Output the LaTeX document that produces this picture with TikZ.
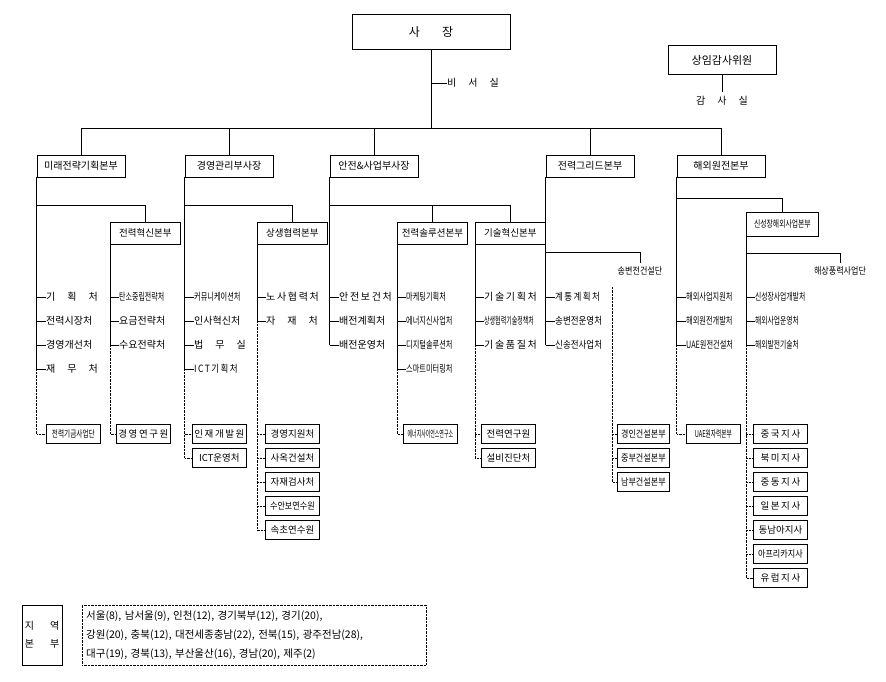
\documentclass[tikz,border=0pt]{standalone}
\usepackage{fontspec}
\setmainfont{Noto Sans CJK KR}
\usetikzlibrary{positioning}
\newcommand{\narrow}[2][.75]{\scalebox{#1}[1]{#2}}
\tikzset{
  head/.style={draw,thick,minimum width=88pt,minimum height=22pt,inner sep=0pt,font=\fontsize{10}{10}\selectfont},
  sub/.style={draw,thick,minimum width=70pt,minimum height=22pt,inner sep=0pt,anchor=west,font=\fontsize{9.5}{10}\selectfont},
  item/.style={anchor=west,inner sep=0pt,font=\fontsize{10}{10}\selectfont},
  unit/.style={draw,thick,minimum width=54pt,minimum height=19pt,inner sep=0pt,anchor=west,font=\fontsize{9.5}{10}\selectfont},
  link/.style={semithick},
  dot/.style={densely dotted}
}
\begin{document}
\begin{tikzpicture}[x=1pt,y=-1pt]
\useasboundingbox (0,0) rectangle (886,682);
%top
\node[head,minimum width=158pt,minimum height=35pt,font=\fontsize{12}{12}\selectfont] (ceo) at (431,32) {사\hspace{22pt}장};
\node[item] (sec) at (447,83) {비\hspace{12pt}서\hspace{12pt}실};
\node[head,minimum width=108pt,minimum height=29pt,font=\fontsize{11}{11}\selectfont] (aud) at (722,60) {상임감사위원};
\node[font=\fontsize{10}{10}\selectfont] (audo) at (722,101) {감\hspace{12pt}사\hspace{12pt}실};
\coordinate (bus) at (431,128);
\draw[link] (ceo.south) -- (bus);
\draw[link] (sec.west-|ceo.south) -- (sec.west);
\draw[link] (aud.south) -- ++(0,17);

%headquarters
\node[head] (mA) at (81,166) {미래전략기획본부};
\node[head] (mB) at (229,166) {경영관리부사장};
\node[head] (mC) at (374,166) {안전\&사업부사장};
\node[head] (mD) at (590,166) {전력그리드본부};
\node[head] (mE) at (721,166) {해외원전본부};
\draw[link] (mA.north|-bus) -- (mE.north|-bus);
\foreach \m in {mA,mB,mC,mD,mE} {\draw[link] (\m.north|-bus) -- (\m.north);}

%second level
\node[sub] (nA) at (110,233) {전력혁신본부};
\node[sub] (nB) at (257,233) {상생협력본부};
\node[sub] (nC) at (397,233) {전력솔루션본부};
\node[sub] (nD) at (475,233) {기술혁신본부};
\node[sub,minimum width=72pt,minimum height=24pt] (nE) at (746,224) {\narrow[.72]{신성장해외사업본부}};
\node[font=\fontsize{9.5}{10}\selectfont] (gD) at (640,271) {\narrow[.85]{송변전건설단}};
\node[font=\fontsize{9.5}{10}\selectfont] (gE) at (840,271) {\narrow[.85]{해상풍력사업단}};
\coordinate (bA) at (37,205);
\coordinate (bB) at (185,205);
\coordinate (bC) at (330,205);
\coordinate (bD) at (546,252);
\coordinate (bE) at (677,198);
\coordinate (bF) at (746,253);
\draw[link] (bA) -| (nA.north);
\draw[link] (bB) -| (nB.north);
\draw[link] (bC) -| (nD.north);
\draw[link] (nC.north|-bC) -- (nC.north);
\draw[link] (bD) -| (gD.north);
\draw[link] (bE) -| (nE.north);
\draw[link] (bF) -| (gE.north);

%offices
\foreach \t [count=\i] in {기\hspace{12pt}획\hspace{12pt}처,전력시장처,경영개선처,재\hspace{12pt}무\hspace{12pt}처}
  {\node[item] (a\i) at (46,273+24*\i) {\t}; \draw[link] (a\i.west-|mA.south west) -- (a\i.west);}
\foreach \t [count=\i] in {\narrow[.7]{탄소중립전략처},요금전략처,수요전략처}
  {\node[item] (b\i) at (119,273+24*\i) {\t}; \draw[link] (b\i.west-|nA.south west) -- (b\i.west);}
\foreach \t [count=\i] in {\narrow[.72]{커뮤니케이션처},인사혁신처,법\hspace{12pt}무\hspace{12pt}실,\narrow[.85]{I\,C\,T\,기\,획\,처}}
  {\node[item] (c\i) at (194,273+24*\i) {\t}; \draw[link] (c\i.west-|mB.south west) -- (c\i.west);}
\foreach \t [count=\i] in {노\,사\,협\,력\,처,자\hspace{12pt}재\hspace{12pt}처}
  {\node[item] (d\i) at (266,273+24*\i) {\t}; \draw[link] (d\i.west-|nB.south west) -- (d\i.west);}
\foreach \t [count=\i] in {안\,전\,보\,건\,처,배전계획처,배전운영처}
  {\node[item] (e\i) at (339,273+24*\i) {\t}; \draw[link] (e\i.west-|mC.south west) -- (e\i.west);}
\foreach \t [count=\i] in {마케팅기획처,에너지신사업처,디지털솔루션처,스마트미터링처}
  {\node[item] (f\i) at (406,273+24*\i) {\narrow[.72]{\t}}; \draw[link] (f\i.west-|nC.south west) -- (f\i.west);}
\foreach \t [count=\i] in {기\,술\,기\,획\,처,\narrow[.6]{상생협력기술정책처},기\,술\,품\,질\,처}
  {\node[item] (g\i) at (484,273+24*\i) {\t}; \draw[link] (g\i.west-|nD.south west) -- (g\i.west);}
\foreach \t [count=\i] in {계\,통\,계\,획\,처,송변전운영처,신송전사업처}
  {\node[item] (h\i) at (555,273+24*\i) {\narrow[.85]{\t}}; \draw[link] (h\i.west-|mD.south west) -- (h\i.west);}
\foreach \t [count=\i] in {해외사업지원처,해외원전개발처,UAE원전건설처}
  {\node[item] (k\i) at (686,273+24*\i) {\narrow[.72]{\t}}; \draw[link] (k\i.west-|mE.south west) -- (k\i.west);}
\foreach \t [count=\i] in {신성장사업개발처,해외사업운영처,해외발전기술처}
  {\node[item] (l\i) at (755,273+24*\i) {\narrow[.68]{\t}}; \draw[link] (l\i.west-|nE.south west) -- (l\i.west);}

%solid spines
\draw[link] (mA.south west) -- (a4.west-|mA.south west);
\draw[link] (nA.south west) -- (b3.west-|nA.south west);
\draw[link] (mB.south west) -- (c4.west-|mB.south west);
\draw[link] (nB.south west) -- (d2.west-|nB.south west);
\draw[link] (mC.south west) -- (e3.west-|mC.south west);
\draw[link] (nC.south west) -- (f4.west-|nC.south west);
\draw[link] (nD.south west) -- (g3.west-|nD.south west);
\draw[link] (mD.south west) -- (h3.west-|mD.south west);
\draw[link] (mE.south west) -- (k3.west-|mE.south west);
\draw[link] (nE.south west) -- (l3.west-|nE.south west);

%attached units
\node[unit] (ua1) at (46,434) {\narrow[.7]{전력기금사업단}};
\node[unit] (ub1) at (116,434) {경\,영\,연\,구\,원};
\foreach \t [count=\i] in {인\,재\,개\,발\,원,ICT운영처}
  {\node[unit] (uc\i) at (192,410+24*\i) {\t};}
\foreach \t [count=\i] in {경영지원처,사옥건설처,자재검사처,\narrow[.85]{수안보연수원},속초연수원}
  {\node[unit] (ud\i) at (265,410+24*\i) {\t};}
\node[unit] (uf1) at (403,434) {\narrow[.52]{에너지사이언스연구소}};
\foreach \t [count=\i] in {전력연구원,설비진단처}
  {\node[unit] (ug\i) at (481,410+24*\i) {\t};}
\foreach \t [count=\i] in {경인건설본부,중부건설본부,남부건설본부}
  {\node[unit,minimum width=52pt] (uh\i) at (617,410+24*\i) {\narrow[.85]{\t}};}
\node[unit] (uk1) at (686,434) {\narrow[.6]{UAE원자력본부}};
\foreach \t [count=\i] in {중\,국\,지\,사,북\,미\,지\,사,중\,동\,지\,사,일\,본\,지\,사,동남아지사,\narrow[.85]{아프리카지사},유\,럽\,지\,사}
  {\node[unit] (ul\i) at (753,410+24*\i) {\t};}

%dotted links
\draw[dot] (a4.west-|mA.south west) |- (ua1.west);
\draw[dot] (b3.west-|nA.south west) |- (ub1.west);
\draw[dot] (c4.west-|mB.south west) |- (uc2.west);
\draw[dot] (uc1.west-|mB.south west) -- (uc1.west);
\draw[dot] (d2.west-|nB.south west) |- (ud5.west);
\foreach \i in {1,...,4} {\draw[dot] (ud\i.west-|nB.south west) -- (ud\i.west);}
\draw[dot] (f4.west-|nC.south west) |- (uf1.west);
\draw[dot] (g3.west-|nD.south west) |- (ug2.west);
\draw[dot] (ug1.west-|nD.south west) -- (ug1.west);
\draw[dot] ([yshift=-8pt]gD.south-|612,0) |- (uh3.west);
\foreach \i in {1,2} {\draw[dot] (uh\i.west-|612,0) -- (uh\i.west);}
\draw[dot] (k3.west-|mE.south west) |- (uk1.west);
\draw[dot] (l3.west-|nE.south west) |- (ul7.west);
\foreach \i in {1,...,6} {\draw[dot] (ul\i.west-|nE.south west) -- (ul\i.west);}

%regional legend
\node[draw,semithick,minimum width=40pt,minimum height=60pt,inner sep=0pt,align=center,font=\fontsize{10}{18}\selectfont] (reg) at (42,635) {지\hspace{16pt}역\\본\hspace{16pt}부};
\node[draw,dot,minimum height=60pt,text width=336pt,inner sep=4pt,align=left,anchor=west,font=\fontsize{10.5}{19}\selectfont] (regl) at (82,635)
  {서울(8), 남서울(9), 인천(12), 경기북부(12), 경기(20),\\강원(20), 충북(12), 대전세종충남(22), 전북(15), 광주전남(28),\\대구(19), 경북(13), 부산울산(16), 경남(20), 제주(2)};
\end{tikzpicture}
\end{document}
